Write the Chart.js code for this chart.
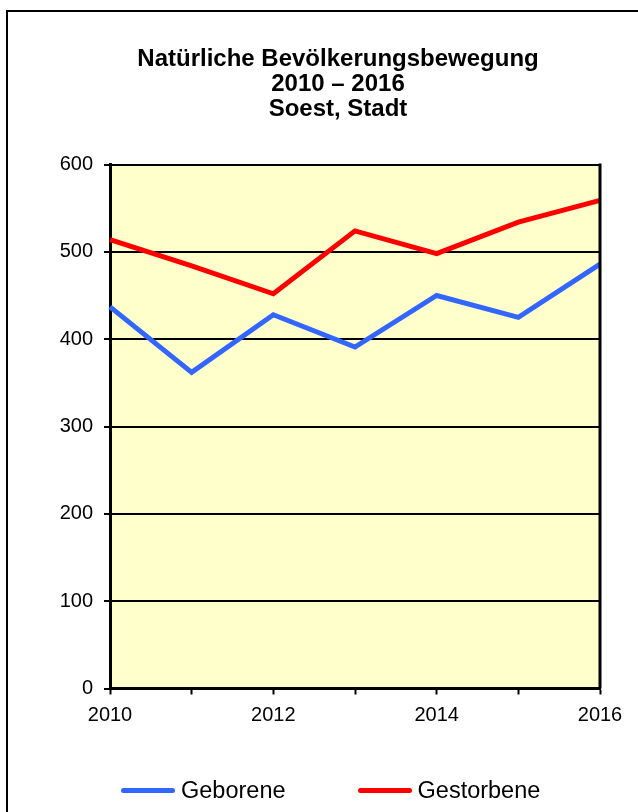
<!DOCTYPE html>
<html lang="de">
<head>
<meta charset="utf-8">
<title>Natürliche Bevölkerungsbewegung 2010 – 2016, Soest</title>
<script src="https://cdn.jsdelivr.net/npm/chart.js@4/dist/chart.umd.min.js"></script>
<style>
    html, body { margin: 0; padding: 0; background: #fff; overflow: hidden; }
    #wrap { position: relative; width: 638px; height: 812px; }
    #frame {
        position: absolute; left: 6px; top: 10px;
        width: 640px; height: 810px;
        border: 2px solid #000; box-sizing: border-box;
    }
    #chart { position: absolute; left: 0; top: 0; }
    #legend {
        position: absolute; left: 121px; top: 776px;
        display: flex; align-items: center;
        font-family: "Liberation Sans", Arial, sans-serif;
        font-size: 23.5px; color: #000; line-height: 28px;
    }
    .lg-item { display: flex; align-items: center; }
    .lg-line { display: inline-block; width: 54px; height: 5px; border-radius: 3px; margin-right: 6px; }
    .lg-item + .lg-item { margin-left: 72px; }
</style>
</head>
<body>
<div id="wrap">
    <div id="frame"></div>
    <canvas id="chart" width="638" height="812"></canvas>
    <div id="legend"></div>
</div>

<script>
// ── Data ───────────────────────────────────────────────────────────
const years      = ['2010', '2011', '2012', '2013', '2014', '2015', '2016'];
const geborene   = [437, 362, 428, 391, 450, 425, 486];
const gestorbene = [514, 484, 452, 524, 498, 534, 559];
const yTicks     = [0, 100, 200, 300, 400, 500, 600];

const FONT = '"Liberation Sans", Arial, sans-serif';

// yellow plot background + right frame line
const plotFrame = {
    id: 'plotFrame',
    beforeDraw(chart) {
        const { ctx, chartArea: a } = chart;
        ctx.save();
        ctx.fillStyle = '#FFFFCC';
        ctx.fillRect(a.left, a.top, a.right - a.left, a.bottom - a.top);
        ctx.restore();
    },
    afterDraw(chart) {
        const { ctx, chartArea: a } = chart;
        ctx.save();
        ctx.strokeStyle = '#000';
        ctx.lineWidth = 3;
        ctx.beginPath();
        ctx.moveTo(a.right, a.top - 1);
        ctx.lineTo(a.right, a.bottom);
        ctx.stroke();
        ctx.restore();
    }
};

// HTML legend built from the datasets
const htmlLegend = {
    id: 'htmlLegend',
    afterUpdate(chart) {
        const box = document.getElementById('legend');
        box.innerHTML = '';
        chart.data.datasets.forEach(ds => {
            const item = document.createElement('span');
            item.className = 'lg-item';
            const line = document.createElement('span');
            line.className = 'lg-line';
            line.style.background = ds.borderColor;
            item.appendChild(line);
            item.appendChild(document.createTextNode(ds.label));
            box.appendChild(item);
        });
    }
};

new Chart(document.getElementById('chart'), {
    type: 'line',
    data: {
        labels: years,
        datasets: [
            {
                label: 'Geborene',
                data: geborene,
                borderColor: '#3366FF',
                borderWidth: 5,
                pointRadius: 0,
                tension: 0,
            },
            {
                label: 'Gestorbene',
                data: gestorbene,
                borderColor: '#FF0000',
                borderWidth: 5,
                pointRadius: 0,
                tension: 0,
            }
        ]
    },
    options: {
        responsive: false,
        animation: false,
        devicePixelRatio: 1,
        // left padding shifts the title centre to the right like the original
        layout: { padding: { top: 0, left: 38, right: 0, bottom: 73.5 } },
        plugins: {
            legend: { display: false },
            tooltip: { enabled: false },
            title: {
                display: true,
                text: ['Natürliche Bevölkerungsbewegung', '2010 – 2016', 'Soest, Stadt'],
                color: '#000',
                font: { family: FONT, size: 24, weight: 'bold', lineHeight: '25px' },
                padding: { top: 46.5, bottom: 43 }
            }
        },
        scales: {
            x: {
                offset: false,
                afterFit: s => { s.height = 50; },
                grid: {
                    drawOnChartArea: false,
                    drawTicks: true,
                    tickLength: 6,
                    tickColor: '#000',
                    tickWidth: 2,
                },
                border: { display: true, color: '#000', width: 3 },
                ticks: {
                    autoSkip: false,
                    maxRotation: 0,
                    padding: 9,
                    color: '#000',
                    font: { family: FONT, size: 20 },
                    callback: (v, i) => (i % 2 === 0 ? years[i] : '')
                }
            },
            y: {
                min: 0,
                max: 600,
                afterFit: s => { s.width = 72; },
                afterBuildTicks: s => { s.ticks = yTicks.map(v => ({ value: v })); },
                grid: {
                    color: '#000',
                    lineWidth: 2,
                    drawTicks: true,
                    tickLength: 6,
                    tickColor: '#000',
                    tickWidth: 2,
                },
                border: { display: true, color: '#000', width: 3 },
                ticks: {
                    padding: 11,
                    color: '#000',
                    font: { family: FONT, size: 20 },
                }
            },
            // empty spacer on the right, keeps the plot's right edge at 600px
            yRight: {
                position: 'right',
                min: 0,
                max: 600,
                afterFit: s => { s.width = 38; },
                grid: { display: false, drawTicks: false },
                border: { display: false },
                ticks: { display: false }
            }
        }
    },
    plugins: [plotFrame, htmlLegend]
});
</script>
</body>
</html>
